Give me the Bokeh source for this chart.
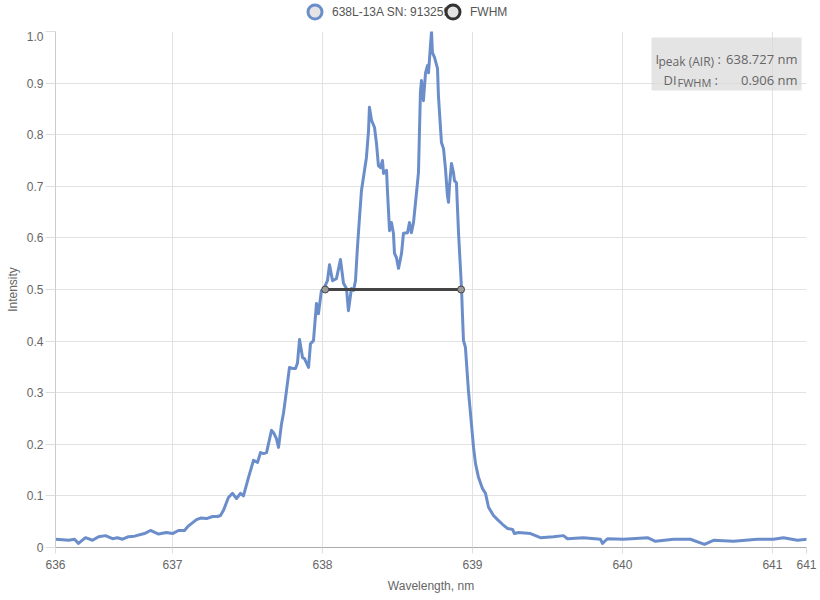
from bokeh.plotting import figure
from bokeh.layouts import column
from bokeh.models import (Range1d, FixedTicker, Legend, LegendItem, ColumnDataSource,
                          BoxAnnotation, Label)
from bokeh.embed import file_html
from bokeh.resources import INLINE

# ---------------- data ----------------
series_name = "638L-13A SN: 913259"
fwhm_name = "FWHM"

wavelength = [
    636.22, 636.267, 636.307, 636.347, 636.373, 636.42, 636.467, 636.507, 636.553, 636.6,
    636.633, 636.667, 636.707, 636.747, 636.813, 636.853, 636.907, 636.96, 637.0, 637.04,
    637.08, 637.107, 637.16, 637.187, 637.227, 637.267, 637.3, 637.32, 637.34, 637.373,
    637.4, 637.427, 637.453, 637.473, 637.507, 637.54, 637.567, 637.587, 637.607, 637.627,
    637.66, 637.673, 637.693, 637.707, 637.727, 637.74, 637.76, 637.78, 637.8, 637.82,
    637.833, 637.847, 637.867, 637.88, 637.907, 637.92, 637.94, 637.96, 637.973, 637.993,
    638.007, 638.033, 638.047, 638.067, 638.093, 638.12, 638.14, 638.16, 638.173, 638.193,
    638.207, 638.22, 638.233, 638.247, 638.26, 638.273, 638.293, 638.307, 638.313, 638.327,
    638.347, 638.36, 638.373, 638.387, 638.4, 638.407, 638.427, 638.433, 638.447, 638.46,
    638.473, 638.48, 638.493, 638.507, 638.527, 638.54, 638.567, 638.58, 638.593, 638.607,
    638.627, 638.64, 638.653, 638.66, 638.673, 638.687, 638.7, 638.707, 638.72, 638.727,
    638.733, 638.747, 638.767, 638.773, 638.793, 638.807, 638.82, 638.833, 638.84, 638.847,
    638.86, 638.873, 638.88, 638.893, 638.907, 638.927, 638.933, 638.94, 638.953, 638.973,
    638.993, 639.007, 639.02, 639.04, 639.067, 639.087, 639.107, 639.14, 639.167, 639.2,
    639.233, 639.267, 639.28, 639.307, 639.387, 639.453, 639.54, 639.607, 639.633, 639.74,
    639.853, 639.867, 639.9, 640.007, 640.167, 640.22, 640.34, 640.453, 640.547, 640.607,
    640.74, 640.9, 641.007, 641.073, 641.167, 641.233,
]
intensity = [
    0.016, 0.015, 0.014, 0.016, 0.008, 0.019, 0.014, 0.021, 0.023, 0.017,
    0.019, 0.016, 0.021, 0.022, 0.027, 0.033, 0.026, 0.029, 0.027, 0.033,
    0.033, 0.042, 0.054, 0.057, 0.056, 0.060, 0.060, 0.062, 0.072, 0.097,
    0.105, 0.095, 0.105, 0.100, 0.136, 0.169, 0.165, 0.184, 0.182, 0.184,
    0.227, 0.223, 0.211, 0.194, 0.240, 0.260, 0.304, 0.349, 0.347, 0.347,
    0.357, 0.403, 0.368, 0.366, 0.349, 0.395, 0.401, 0.473, 0.453, 0.498,
    0.500, 0.517, 0.548, 0.517, 0.521, 0.558, 0.512, 0.502, 0.459, 0.502,
    0.498, 0.517, 0.581, 0.640, 0.692, 0.717, 0.756, 0.808, 0.853, 0.828,
    0.814, 0.783, 0.740, 0.736, 0.750, 0.725, 0.731, 0.692, 0.614, 0.630,
    0.609, 0.570, 0.562, 0.541, 0.570, 0.609, 0.610, 0.630, 0.610, 0.630,
    0.688, 0.727, 0.882, 0.905, 0.866, 0.920, 0.934, 0.920, 0.973, 1.000,
    0.959, 0.950, 0.928, 0.876, 0.785, 0.773, 0.734, 0.682, 0.669, 0.702,
    0.744, 0.727, 0.711, 0.707, 0.610, 0.502, 0.453, 0.401, 0.388, 0.304,
    0.240, 0.194, 0.163, 0.136, 0.114, 0.105, 0.078, 0.062, 0.054, 0.045,
    0.037, 0.035, 0.027, 0.029, 0.027, 0.019, 0.021, 0.023, 0.017, 0.019,
    0.016, 0.008, 0.017, 0.016, 0.019, 0.012, 0.016, 0.016, 0.006, 0.014,
    0.012, 0.016, 0.016, 0.019, 0.014, 0.016,
]

fwhm_x = [638.018, 638.924]
fwhm_y = [0.5, 0.5]

peak_wavelength = 638.727
fwhm_width = 0.906

x_ticks = [636.22, 637, 638, 639, 640, 641, 641.227]
x_tick_labels = ["636", "637", "638", "639", "640", "641", "641"]
y_ticks = [0.0, 0.1, 0.2, 0.3, 0.4, 0.5, 0.6, 0.7, 0.8, 0.9, 1.0]
y_tick_labels = ["0", "0.1", "0.2", "0.3", "0.4", "0.5", "0.6", "0.7", "0.8", "0.9", "1.0"]

# ---------------- styles ----------------
BLUE = "#6b8ecb"
DARK = "#444444"
GRID = "#e2e2e2"
TXT = "#666666"
FONT = "Liberation Sans"

spec = ColumnDataSource(dict(x=wavelength, y=intensity))
fw = ColumnDataSource(dict(x=fwhm_x, y=fwhm_y))

# ---------------- legend strip ----------------
# its own ranges exclude all data, so its renderers only appear as legend swatches
lg = figure(width=820, height=31, output_backend="svg", toolbar_location=None,
            x_axis_location=None, y_axis_location=None,
            x_range=Range1d(0, 1), y_range=Range1d(0, 1),
            min_border_left=0, min_border_right=0, min_border_top=0, min_border_bottom=0)
lg.outline_line_color = None
lg.grid.visible = False
leg1 = lg.scatter("x", "y", source=spec, size=14,
                  fill_color="#e4e4e4", line_color=BLUE, line_width=3)
leg2 = lg.scatter("x", "y", source=fw, size=14,
                  fill_color="#e4e4e4", line_color="#333333", line_width=3)

def make_legend(label, renderer, loc):
    return Legend(items=[LegendItem(label=label, renderers=[renderer])],
                  location=loc, orientation="horizontal",
                  glyph_width=35, glyph_height=35, label_standoff=-4,
                  padding=0, margin=0, border_line_color=None, background_fill_alpha=0,
                  label_text_font=FONT, label_text_font_size="12px",
                  label_text_color="#555555")

lg.add_layout(make_legend(series_name, leg1, (242, 2)))
lg.add_layout(make_legend(fwhm_name, leg2, (380, 2)))

# ---------------- main chart ----------------
p = figure(width=820, height=569, output_backend="svg", toolbar_location=None,
           x_range=Range1d(x_ticks[0], x_ticks[-1]), y_range=Range1d(y_ticks[0], y_ticks[-1]),
           min_border_left=55, min_border_right=14, min_border_top=0, min_border_bottom=53,
           x_axis_label="Wavelength, nm", y_axis_label="Intensity")
p.outline_line_color = None

p.line("x", "y", source=spec, line_color=BLUE, line_width=3, line_join="round")
p.line("x", "y", source=fw, line_color=DARK, line_width=3)
p.scatter("x", "y", source=fw, size=7, fill_color="#9a9a9a", line_color=DARK, line_width=1)

xa = p.xaxis[0]
xa.ticker = FixedTicker(ticks=x_ticks)
xa.major_label_overrides = {t: l for t, l in zip(x_ticks, x_tick_labels)}
ya = p.yaxis[0]
ya.ticker = FixedTicker(ticks=y_ticks)
ya.major_label_overrides = {t: l for t, l in zip(y_ticks, y_tick_labels)}

for ax in (xa, ya):
    ax.major_label_text_font = FONT
    ax.major_label_text_font_size = "12px"
    ax.major_label_text_color = TXT
    ax.axis_label_text_font = FONT
    ax.axis_label_text_font_size = "12px"
    ax.axis_label_text_font_style = "normal"
    ax.axis_label_text_color = TXT
    ax.minor_tick_line_color = None
    ax.major_tick_in = 0
    ax.major_tick_line_color = "#dddddd"

xa.axis_line_color = "#aaaaaa"
xa.major_tick_out = 6
xa.major_label_standoff = 6
xa.axis_label_standoff = 7
ya.axis_line_color = "#cccccc"
ya.major_tick_out = 10
ya.major_label_standoff = 2
ya.axis_label_standoff = 4

p.xgrid.grid_line_color = GRID
p.ygrid.grid_line_color = GRID
p.xgrid.ticker = FixedTicker(ticks=x_ticks)
p.ygrid.ticker = FixedTicker(ticks=y_ticks)

# info box (screen units relative to the plot frame)
p.add_layout(BoxAnnotation(left=596, right=746, top=510, bottom=457,
                           left_units="screen", right_units="screen",
                           top_units="screen", bottom_units="screen",
                           fill_color="#d9d9d9", fill_alpha=0.7, line_color=None))

IFONT = "Open Sans"
ICOL = "#666666"

def lab(x, y, t, size, align="left"):
    p.add_layout(Label(x=x, y=y, x_units="screen", y_units="screen", text=t,
                       text_font=IFONT, text_font_size=size, text_color=ICOL,
                       text_align=align, text_baseline="alphabetic"))

lab(600, 489, "I", "13px")
lab(603, 486, "peak (AIR)", "12px")
lab(662, 489, ":", "13px")
lab(742, 489, f"{peak_wavelength:.3f} nm", "13px", "right")
lab(608, 468, "DI", "13px")
lab(622, 465, "FWHM", "11px")
lab(659, 468, ":", "13px")
lab(742, 468, f"{fwhm_width:.3f} nm", "13px", "right")

layout = column(lg, p, spacing=0)
open("out.html", "w").write(file_html(layout, INLINE))
